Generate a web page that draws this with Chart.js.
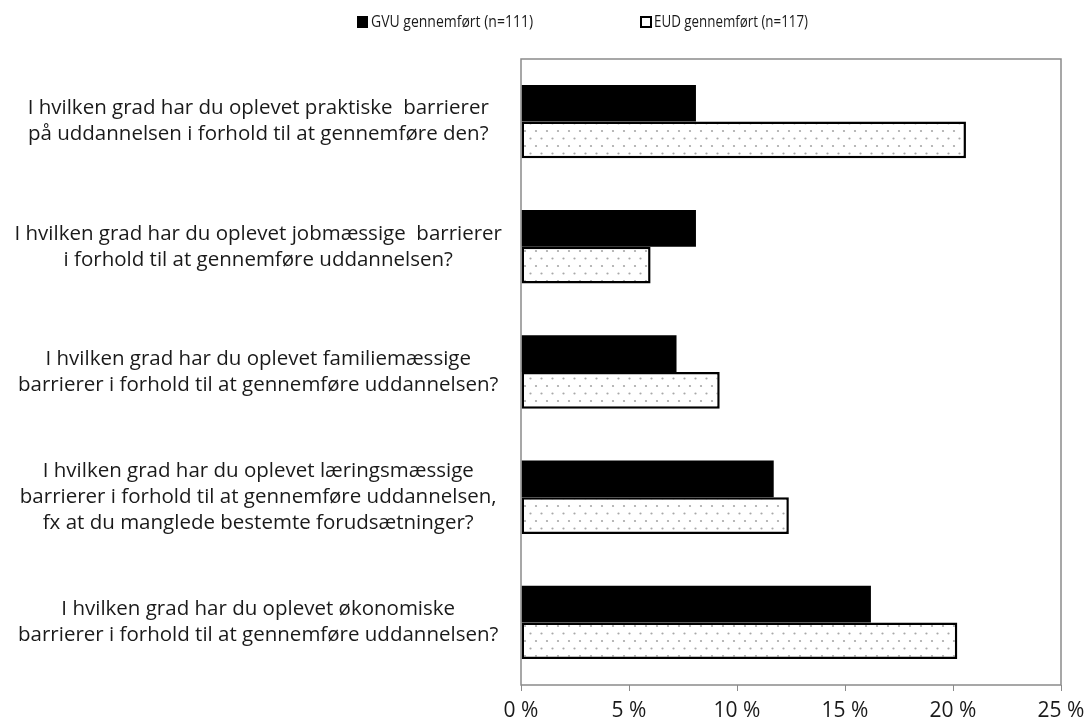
<!DOCTYPE html>
<html>
<head>
<meta charset="utf-8">
<script src="https://cdn.jsdelivr.net/npm/chart.js@4.4.1/dist/chart.umd.min.js"></script>
<style>
  html, body { margin: 0; padding: 0; background: #ffffff; }
  #wrap { width: 1088px; height: 722px; position: relative; }
</style>
</head>
<body>
<div id="wrap"><canvas id="c" width="1088" height="722"></canvas></div>
<script>
// ---- data ----
const categories = [
  ["I hvilken grad har du oplevet praktiske  barrierer", "på uddannelsen i forhold til at gennemføre den?"],
  ["I hvilken grad har du oplevet jobmæssige  barrierer", "i forhold til at gennemføre uddannelsen?"],
  ["I hvilken grad har du oplevet familiemæssige", "barrierer i forhold til at gennemføre uddannelsen?"],
  ["I hvilken grad har du oplevet læringsmæssige", "barrierer i forhold til at gennemføre uddannelsen,", "fx at du manglede bestemte forudsætninger?"],
  ["I hvilken grad har du oplevet økonomiske", "barrierer i forhold til at gennemføre uddannelsen?"]
];
const seriesNames = ["GVU gennemført (n=111)", "EUD gennemført (n=117)"];
const gvuValues = [8.1, 8.1, 7.2, 11.7, 16.2];
const eudValues = [20.6, 6.0, 9.2, 12.4, 20.2];
const xTicks = [0, 5, 10, 15, 20, 25];

// ---- styles ----
const FONT = "'Open Sans', 'Noto Sans', sans-serif";
const TEXT = '#1a1a1a';
const FRAME = '#8a8a8a';

function dotPattern() {
  const t = document.createElement('canvas');
  t.width = 11; t.height = 15;
  const g = t.getContext('2d');
  g.fillStyle = '#ffffff';
  g.fillRect(0, 0, 11, 15);
  g.fillStyle = '#a8a8a8';
  [[2.5, 3.5], [8, 11]].forEach(([x, y]) => {
    g.beginPath(); g.arc(x, y, 1.1, 0, Math.PI * 2); g.fill();
  });
  const ctx = document.getElementById('c').getContext('2d');
  return ctx.createPattern(t, 'repeat');
}

const framePlugin = {
  id: 'frame',
  afterDatasetsDraw(chart) {
    const a = chart.chartArea, ctx = chart.ctx;
    ctx.save();
    ctx.strokeStyle = FRAME;
    ctx.lineWidth = 1.5;
    ctx.strokeRect(a.left, a.top, a.right - a.left, a.bottom - a.top);
    ctx.restore();
  }
};

const legendPlugin = {
  id: 'customLegend',
  afterDraw(chart) {
    const ctx = chart.ctx;
    const items = [
      { x: 357, w: 162, label: chart.data.datasets[0].label, filled: true },
      { x: 640, w: 154, label: chart.data.datasets[1].label, filled: false }
    ];
    ctx.save();
    ctx.font = '16px ' + FONT;
    ctx.textBaseline = 'middle';
    items.forEach(it => {
      const y = 22;
      if (it.filled) {
        ctx.fillStyle = '#000';
        ctx.fillRect(it.x, y - 6, 11, 12);
      } else {
        ctx.strokeStyle = '#000';
        ctx.lineWidth = 2;
        ctx.strokeRect(it.x + 1, y - 5, 10, 10);
      }
      ctx.fillStyle = TEXT;
      ctx.fillText(it.label, it.x + 14, y, it.w);
    });
    ctx.restore();
  }
};

new Chart(document.getElementById('c'), {
  type: 'bar',
  data: {
    labels: categories,
    datasets: [
      {
        label: seriesNames[0],
        data: gvuValues,
        backgroundColor: '#000000',
        borderColor: '#000000',
        borderWidth: 0,
        categoryPercentage: 0.586,
        barPercentage: 1.0
      },
      {
        label: seriesNames[1],
        data: eudValues,
        backgroundColor: dotPattern(),
        borderColor: '#000000',
        borderWidth: 2.5,
        borderSkipped: false,
        categoryPercentage: 0.586,
        barPercentage: 1.0
      }
    ]
  },
  options: {
    indexAxis: 'y',
    responsive: false,
    animation: false,
    layout: { padding: { top: 59, right: 27, bottom: 0, left: 0 } },
    plugins: {
      legend: { display: false },
      tooltip: { enabled: false }
    },
    scales: {
      x: {
        min: 0, max: 25,
        afterBuildTicks(scale) { scale.ticks = xTicks.map(v => ({ value: v })); },
        afterFit(scale) { scale.height = 37; scale.paddingLeft = 0; scale.paddingRight = 0; },
        grid: { drawOnChartArea: false, drawTicks: true, tickLength: 6, color: FRAME, tickColor: FRAME },
        border: { display: false },
        ticks: {
          color: TEXT,
          font: { family: FONT, size: 21 },
          padding: 7,
          maxRotation: 0,
          callback: v => v + ' %'
        }
      },
      y: {
        afterFit(scale) { scale.width = 521; scale.paddingTop = 0; scale.paddingBottom = 0; },
        grid: { display: false, drawTicks: false },
        border: { display: false },
        ticks: {
          color: TEXT,
          font: { family: FONT, size: 20.5, lineHeight: '26px' },
          crossAlign: 'center',
          padding: 19,
          autoSkip: false
        }
      }
    }
  },
  plugins: [framePlugin, legendPlugin]
});
</script>
</body>
</html>
